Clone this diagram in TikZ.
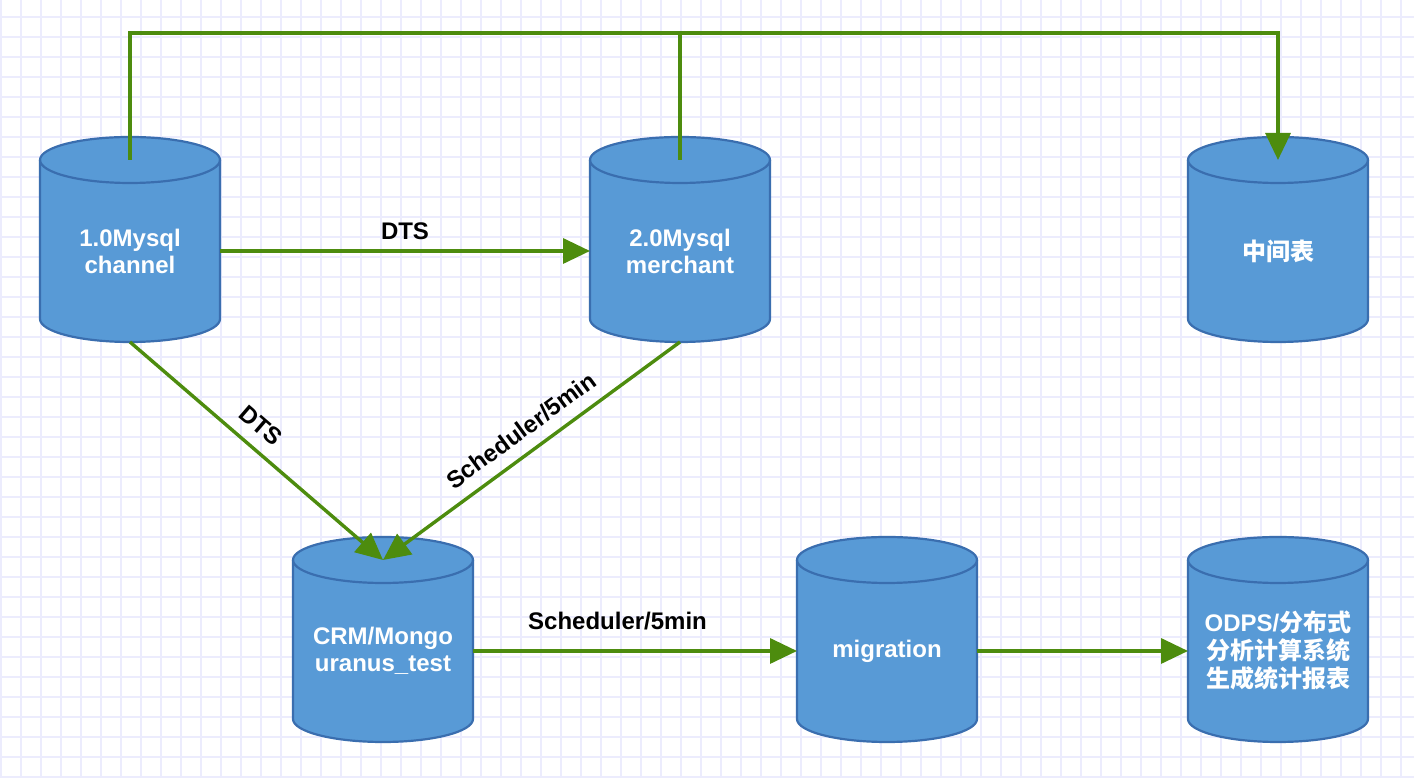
\documentclass[tikz,border=0pt]{standalone}
\usepackage{fontspec}
\setmainfont{Liberation Sans}
\newfontfamily\cjk{Noto Sans CJK SC}
\usetikzlibrary{arrows.meta}
\definecolor{dbfill}{RGB}{88,154,214}
\definecolor{dbline}{RGB}{58,110,175}
\definecolor{flowgreen}{RGB}{77,140,14}
\definecolor{gridc}{RGB}{236,236,253}
\pgfdeclarelayer{gridlayer}
\pgfdeclarelayer{shapes}
\pgfsetlayers{gridlayer,shapes,main}
\tikzset{
  dbnode/.style={minimum width=180pt, minimum height=182pt, inner sep=0pt, outer sep=0pt,
    text=white, font=\fontsize{24}{27}\selectfont\bfseries, align=center},
  flow/.style={draw=flowgreen, line width=3.4pt, -{Triangle[length=27pt,width=25pt]}},
  flowplain/.style={draw=flowgreen, line width=3.4pt},
  elabel/.style={font=\fontsize{24}{27}\selectfont\bfseries, text=black, inner sep=0pt},
  gridline/.style={draw=gridc, line width=1.6pt},
}
\newcommand\dbshape[1]{%
  \begin{pgfonlayer}{shapes}
  \filldraw[fill=dbfill, draw=dbline, line width=2.2pt] (#1.north west) -- ([yshift=23pt]#1.south west)
    arc[start angle=180,end angle=360,x radius=90pt,y radius=23pt] -- (#1.north east)
    arc[start angle=0,end angle=180,x radius=90pt,y radius=23pt] -- cycle;
  \draw[dbline, line width=2.2pt] (#1.north west) arc[start angle=180,end angle=360,x radius=90pt,y radius=23pt];
  \end{pgfonlayer}}
\begin{document}
\begin{tikzpicture}[x=1pt,y=1pt]
\useasboundingbox (0,0) rectangle (1414,778);
\begin{pgfonlayer}{gridlayer}
  \fill[white] (0,0) rectangle (1414,778);
  \foreach \x in {1,21,...,1414} \draw[gridline] (\x,0) -- (\x,778);
  \foreach \y in {1,21,...,778} \draw[gridline] (0,\y) -- (1414,\y);
\end{pgfonlayer}

\node[dbnode] (A) at (130,527) {1.0Mysql\\channel};
\node[dbnode] (B) at (680,527) {2.0Mysql\\merchant};
\node[dbnode] (C) at (1278,527) {\cjk 中间表};
\node[dbnode] (D) at (383,127) {CRM/Mongo\\uranus\_test};
\node[dbnode] (E) at (887,127) {migration};
\node[dbnode, font=\fontsize{24}{28}\selectfont\bfseries] (F) at (1278,127)
  {ODPS/{\cjk 分布式}\\{\cjk 分析计算系统}\\{\cjk 生成统计报表}};
\dbshape{A}\dbshape{B}\dbshape{C}\dbshape{D}\dbshape{E}\dbshape{F}

\coordinate (topy) at (0,745);
\draw[flow] (A.north) |- (C.north |- topy) -- (C.north);
\draw[flowplain] (B.north) -- (B.north |- topy);
\draw[flow] (A) -- node[elabel, midway, above=10pt] {DTS} (B);
\draw[flow] (A.south) -- node[elabel, pos=0.46, sloped, above=12pt] {DTS} (D.north);
\draw[flow] (B.south) -- node[elabel, pos=0.49, sloped, above=12pt] {Scheduler/5min} (D.north);
\draw[flow] (D) -- node[elabel, pos=0.446, above=19pt] {Scheduler/5min} (E);
\draw[flow] (E) -- (F);
\end{tikzpicture}
\end{document}
